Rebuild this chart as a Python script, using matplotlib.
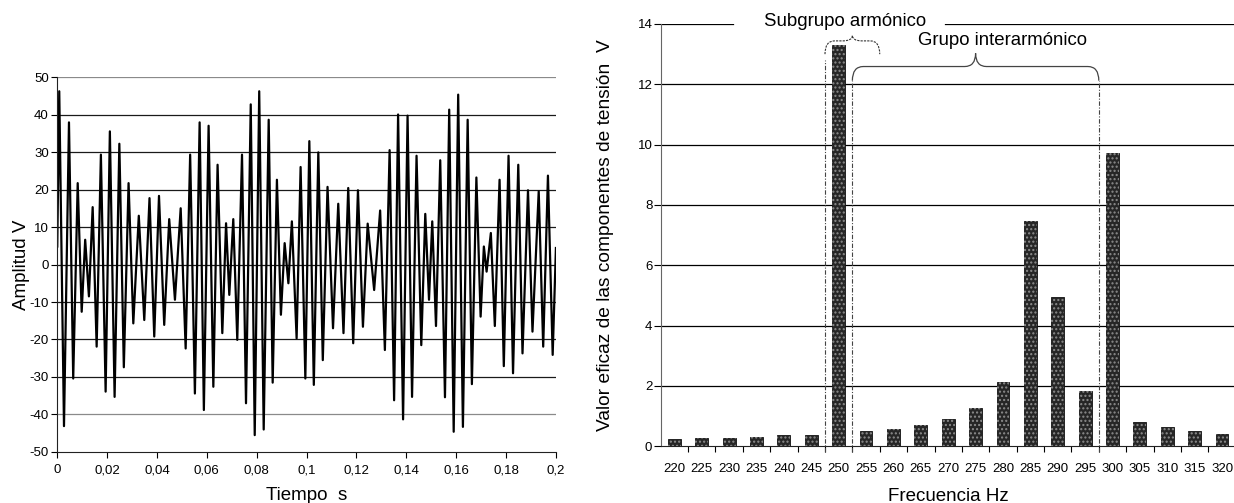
import numpy as np
import matplotlib.pyplot as plt
from matplotlib.path import Path
from matplotlib.patches import PathPatch

plt.rcParams['font.family'] = ['Liberation Sans', 'DejaVu Sans']
plt.rcParams['axes.unicode_minus'] = False

# peaks and troughs of the waveform
tiempo = [0.0000, 0.0008, 0.0027, 0.0047, 0.0064, 0.0082, 0.0098, 0.0112, 0.0127, 0.0142,
          0.0158, 0.0175, 0.0194, 0.0211, 0.0230, 0.0249, 0.0267, 0.0286, 0.0305, 0.0327,
          0.0349, 0.0370, 0.0389, 0.0408, 0.0429, 0.0449, 0.0472, 0.0495, 0.0515, 0.0533,
          0.0552, 0.0571, 0.0588, 0.0607, 0.0626, 0.0643, 0.0662, 0.0677, 0.0690, 0.0706,
          0.0722, 0.0741, 0.0757, 0.0776, 0.0792, 0.0810, 0.0828, 0.0848, 0.0864, 0.0881,
          0.0897, 0.0912, 0.0927, 0.0941, 0.0960, 0.0976, 0.0995, 0.1011, 0.1029, 0.1047,
          0.1065, 0.1084, 0.1106, 0.1127, 0.1148, 0.1167, 0.1187, 0.1206, 0.1226, 0.1245,
          0.1271, 0.1295, 0.1314, 0.1333, 0.1351, 0.1367, 0.1387, 0.1405, 0.1423, 0.1441,
          0.1460, 0.1476, 0.1491, 0.1504, 0.1519, 0.1536, 0.1555, 0.1572, 0.1590, 0.1608,
          0.1627, 0.1646, 0.1663, 0.1681, 0.1698, 0.1711, 0.1722, 0.1739, 0.1755, 0.1774,
          0.1791, 0.1810, 0.1828, 0.1849, 0.1866, 0.1888, 0.1906, 0.1931, 0.1949, 0.1968,
          0.1987, 0.2000]
amplitud = [4.8, 46.2, -43.1, 37.9, -30.4, 21.7, -12.6, 6.6, -8.5, 15.3,
            -21.9, 29.3, -33.9, 35.5, -35.3, 32.2, -27.4, 21.7, -15.7, 13.0,
            -14.8, 17.7, -19.2, 18.3, -16.1, 12.1, -9.4, 15.0, -22.4, 29.3,
            -34.4, 37.9, -38.8, 37.0, -32.6, 26.6, -18.3, 11.0, -8.1, 12.1,
            -20.1, 29.3, -37.0, 42.7, -45.5, 46.2, -44.0, 38.6, -31.5, 22.6,
            -13.4, 5.7, -5.0, 11.5, -19.7, 26.0, -30.4, 32.9, -32.1, 29.9,
            -25.5, 20.7, -17.0, 16.2, -18.3, 20.4, -21.0, 19.8, -16.6, 10.9,
            -6.8, 14.4, -22.8, 30.5, -36.2, 40.0, -41.3, 39.7, -35.3, 29.0,
            -21.5, 13.5, -9.4, 11.5, -16.4, 27.8, -35.4, 41.3, -44.6, 45.3,
            -43.3, 38.6, -31.9, 23.2, -13.9, 4.8, -1.9, 8.4, -16.4, 22.6,
            -27.1, 29.0, -29.0, 26.6, -23.7, 19.8, -17.9, 19.5, -21.9, 23.7,
            -24.1, 4.4]

tiempo_ticks = [0, 0.02, 0.04, 0.06, 0.08, 0.1, 0.12, 0.14, 0.16, 0.18, 0.2]
tiempo_labels = ['0', '0,02', '0,04', '0,06', '0,08', '0,1', '0,12', '0,14', '0,16', '0,18', '0,2']

frecuencias = [220, 225, 230, 235, 240, 245, 250, 255, 260, 265, 270,
               275, 280, 285, 290, 295, 300, 305, 310, 315, 320]
valores = [0.24, 0.27, 0.29, 0.30, 0.36, 0.37, 13.32, 0.50, 0.59, 0.72, 0.90,
           1.26, 2.14, 7.47, 4.96, 1.83, 9.72, 0.81, 0.64, 0.51, 0.42]

fig = plt.figure(figsize=(12.34, 5.03), dpi=100)

# ---- left panel: waveform
ax1 = fig.add_axes([0.0464, 0.1014, 0.4041, 0.7455])
for y in range(-40, 51, 10):
    c = '#8a8a8a' if y in (50, -40) else '#1a1a1a'
    ax1.axhline(y, color=c, lw=0.9, zorder=0)
ax1.plot(tiempo, amplitud, color='black', lw=1.6, solid_joinstyle='round', zorder=2)
ax1.set_xlim(0, 0.2)
ax1.set_ylim(-50, 50)
ax1.set_yticks(range(-50, 51, 10))
ax1.set_xticks(tiempo_ticks)
ax1.set_xticklabels(tiempo_labels)
ax1.tick_params(direction='out', length=4, width=0.8, labelsize=9.5, pad=2)
ax1.tick_params(axis='x', pad=5)
for s in ['top', 'right']:
    ax1.spines[s].set_visible(False)
ax1.spines['left'].set_color('#222')
ax1.spines['bottom'].set_color('#222')
ax1.set_ylabel('Amplitud V', fontsize=13.5)
ax1.yaxis.set_label_coords(-0.054, 0.5)
ax1.set_xlabel('Tiempo  s', fontsize=13.5)
ax1.xaxis.set_label_coords(0.5, -0.093)

# ---- right panel: spectrum
ax2 = fig.add_axes([0.5354, 0.1127, 0.4660, 0.8396])
idx = np.arange(len(frecuencias))
ax2.set_axisbelow(True)
for y in range(2, 13, 2):
    ax2.axhline(y, color='black', lw=0.9, zorder=0)
# top line is broken by the title label
ax2.axhline(14, xmin=0, xmax=0.126, color='black', lw=0.9, zorder=0)
ax2.axhline(14, xmin=0.494, xmax=1, color='black', lw=0.9, zorder=0)

ax2.bar(idx, valores, width=0.47, color='#262626', edgecolor='#111', linewidth=0.6, zorder=2)
ax2.bar(idx, valores, width=0.47, fill=False, hatch='....', edgecolor='#8c8c8c', linewidth=0, zorder=3)

ax2.set_xlim(-0.5, len(frecuencias) - 0.5)
ax2.set_ylim(0, 14)
ax2.set_xticks(idx)
ax2.set_xticklabels([str(f) for f in frecuencias])
ax2.set_xticks(idx[:-1] + 0.5, minor=True)
ax2.tick_params(axis='x', which='major', length=0, labelsize=9.5, pad=12)
ax2.tick_params(axis='x', which='minor', direction='out', length=4, width=0.8)
ax2.set_yticks(range(0, 15, 2))
ax2.tick_params(axis='y', direction='out', length=5, width=0.8, labelsize=9.5, pad=1)
for s in ['top', 'right']:
    ax2.spines[s].set_visible(False)
ax2.spines['left'].set_color('#666')
ax2.spines['bottom'].set_color('#222')
ax2.set_ylabel('Valor eficaz de las componentes de tensión  V', fontsize=13.8)
ax2.yaxis.set_label_coords(-0.081, 0.5)
ax2.set_xlabel('Frecuencia Hz', fontsize=13.5)
ax2.xaxis.set_label_coords(0.5, -0.099)


def brace(ax, x0, x1, y_end, y_line, y_tip, dx, **kw):
    xc = (x0 + x1) / 2
    verts = [(x0, y_end), (x0, y_line), (x0 + dx, y_line),
             (xc - dx, y_line), (xc, y_line), (xc, y_tip),
             (xc, y_line), (xc + dx, y_line),
             (x1 - dx, y_line), (x1, y_line), (x1, y_end)]
    codes = [Path.MOVETO, Path.CURVE3, Path.CURVE3,
             Path.LINETO, Path.CURVE3, Path.CURVE3,
             Path.CURVE3, Path.CURVE3,
             Path.LINETO, Path.CURVE3, Path.CURVE3]
    ax.add_patch(PathPatch(Path(verts, codes), fill=False, clip_on=False, **kw))


# group boundaries
b_sub = frecuencias.index(250) - 0.5
b_int0 = frecuencias.index(255) - 0.5
b_int1 = frecuencias.index(300) - 0.5
dash = (0, (4, 1.5, 1, 1.5))
ax2.plot([b_sub, b_sub], [-0.2, 12.8], color='#444', lw=0.8, ls=dash, clip_on=False, zorder=4)
ax2.plot([b_int0, b_int0], [-0.2, 12.1], color='#444', lw=0.8, ls=dash, clip_on=False, zorder=4)
ax2.plot([b_int1, b_int1], [-0.2, 12.1], color='#444', lw=0.8, ls=dash, clip_on=False, zorder=4)

brace(ax2, b_sub, b_sub + 2, 13.0, 13.44, 13.62, 0.35, edgecolor='#333', lw=0.8, linestyle=(0, (2, 1)))
brace(ax2, b_int0, b_int1, 12.12, 12.59, 13.03, 0.4, edgecolor='#444', lw=0.9)

ax2.text(b_sub + 0.75, 14.08, 'Subgrupo armónico', fontsize=13.4, ha='center', va='center')
ax2.text((b_int0 + b_int1) / 2 + 0.97, 13.45, 'Grupo interarmónico', fontsize=13.4, ha='center', va='center')

plt.savefig('out.png', dpi=100)
